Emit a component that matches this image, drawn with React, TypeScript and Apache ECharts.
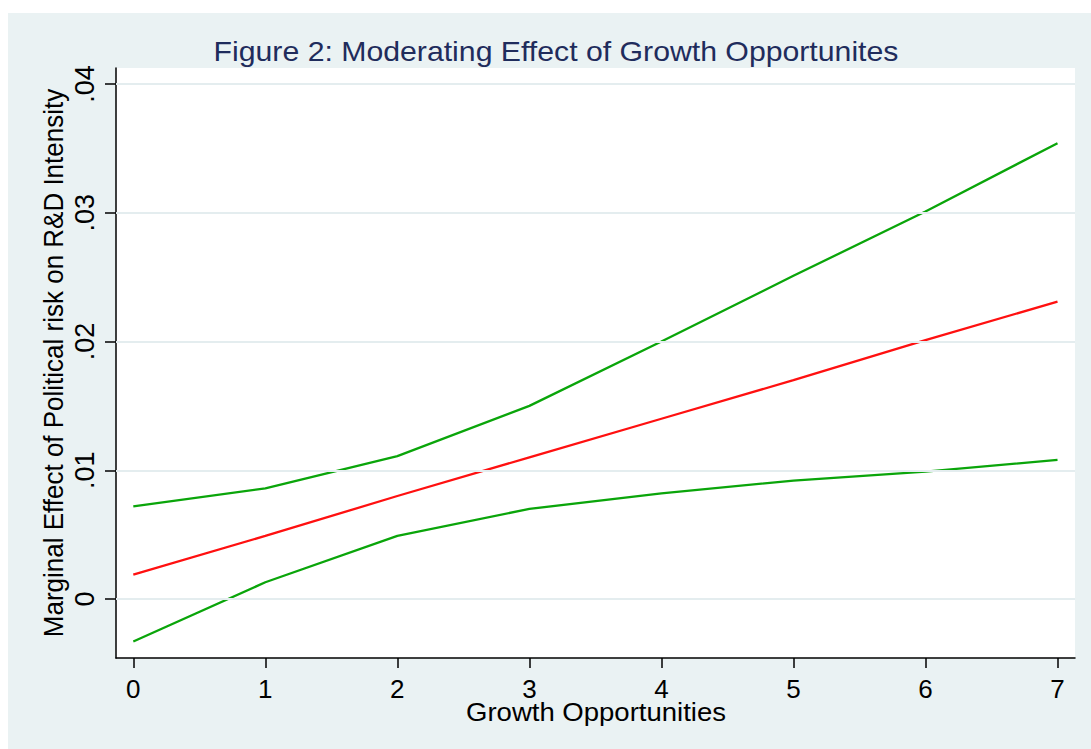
import React, { useEffect, useRef } from "react";
import * as echarts from "echarts";

// Growth opportunities (x) and the marginal effect with its confidence band
const growth = [0, 1, 2, 3, 4, 5, 6, 7];
const marginalEffect = [0.0019, 0.0049, 0.008, 0.011, 0.014, 0.017, 0.0201, 0.0231];
const upperBound = [0.0072, 0.0086, 0.0111, 0.015, 0.02, 0.0251, 0.0301, 0.0354];
const lowerBound = [-0.0033, 0.0013, 0.0049, 0.007, 0.0082, 0.0092, 0.0099, 0.0108];

const xTicks = [0, 1, 2, 3, 4, 5, 6, 7];
const yTicks = [0, 0.01, 0.02, 0.03, 0.04];

const titleText = "Figure 2: Moderating Effect of Growth Opportunites";
const xTitle = "Growth Opportunities";
const yTitle = "Marginal Effect of Political risk on R&D Intensity";

const FONT = "'Liberation Sans', Arial, Helvetica, sans-serif";
const BG = "#EAF2F3";
const GREEN = "#0AA50A";
const RED = "#FF1010";

const pairs = (ys: number[]) => growth.map((g, i) => [g, ys[i]]);

const fmtY = (v: number) => {
  if (Math.abs(v) < 1e-9) return "0";
  return v.toFixed(2).replace(/^0/, "");
};

export default function App() {
  const ref = useRef<HTMLDivElement>(null);

  useEffect(() => {
    if (!ref.current) return;
    const chart = echarts.init(ref.current, undefined, { renderer: "svg" });
    chart.setOption({
      animation: false,
      backgroundColor: BG,
      textStyle: { fontFamily: FONT },
      grid: {
        left: 108,
        top: 55,
        right: 16,
        bottom: 91,
        show: true,
        backgroundColor: "#FFFFFF",
        borderWidth: 0,
      },
      graphic: [
        {
          type: "text",
          x: 548,
          y: 38,
          scaleX: 1.08,
          style: {
            text: titleText,
            font: `28px ${FONT}`,
            fill: "#1F2C5C",
            align: "center",
            verticalAlign: "middle",
          },
        },
        {
          type: "text",
          x: 588,
          y: 699,
          scaleX: 1.08,
          style: {
            text: xTitle,
            font: `25.5px ${FONT}`,
            fill: "#000000",
            align: "center",
            verticalAlign: "middle",
          },
        },
        {
          type: "text",
          x: 46,
          y: 350,
          rotation: Math.PI / 2,
          scaleY: 1.08,
          style: {
            text: yTitle,
            font: `26px ${FONT}`,
            fill: "#000000",
            align: "center",
            verticalAlign: "middle",
          },
        },
      ],
      xAxis: {
        type: "value",
        min: -0.131,
        max: 7.1325,
        splitLine: { show: false },
        axisLine: { onZero: false, lineStyle: { color: "#000", width: 1.5 } },
        axisTick: {
          show: true,
          length: 10,
          customValues: xTicks,
          lineStyle: { color: "#000", width: 1.5 },
        },
        axisLabel: {
          customValues: xTicks,
          margin: 18,
          fontSize: 26,
          color: "#000",
          fontFamily: FONT,
        },
      },
      yAxis: {
        type: "value",
        min: -0.00458,
        max: 0.04124,
        splitLine: { show: false },
        axisLine: { show: true, onZero: false, lineStyle: { color: "#000", width: 1.5 } },
        axisTick: {
          show: true,
          length: 11,
          customValues: yTicks,
          lineStyle: { color: "#000", width: 1.5 },
        },
        axisLabel: {
          customValues: yTicks,
          rotate: 90,
          margin: 18,
          fontSize: 27,
          color: "#000",
          fontFamily: FONT,
          formatter: fmtY,
        },
      },
      series: [
        {
          // horizontal grid lines at the labelled y values
          type: "line",
          data: [],
          silent: true,
          z: 1,
          markLine: {
            silent: true,
            symbol: "none",
            label: { show: false },
            lineStyle: { color: "#E4EDEF", width: 2, type: "solid" },
            data: yTicks.map((v) => ({ yAxis: v })),
          },
        },
        {
          name: "upper",
          type: "line",
          data: pairs(upperBound),
          showSymbol: false,
          z: 3,
          lineStyle: { color: GREEN, width: 2.3 },
        },
        {
          name: "effect",
          type: "line",
          data: pairs(marginalEffect),
          showSymbol: false,
          z: 3,
          lineStyle: { color: RED, width: 2.3 },
        },
        {
          name: "lower",
          type: "line",
          data: pairs(lowerBound),
          showSymbol: false,
          z: 3,
          lineStyle: { color: GREEN, width: 2.3 },
        },
      ],
    });
    return () => chart.dispose();
  }, []);

  return (
    <div
      ref={ref}
      style={{ position: "absolute", left: 8, top: 13, width: 1083, height: 736 }}
    />
  );
}
